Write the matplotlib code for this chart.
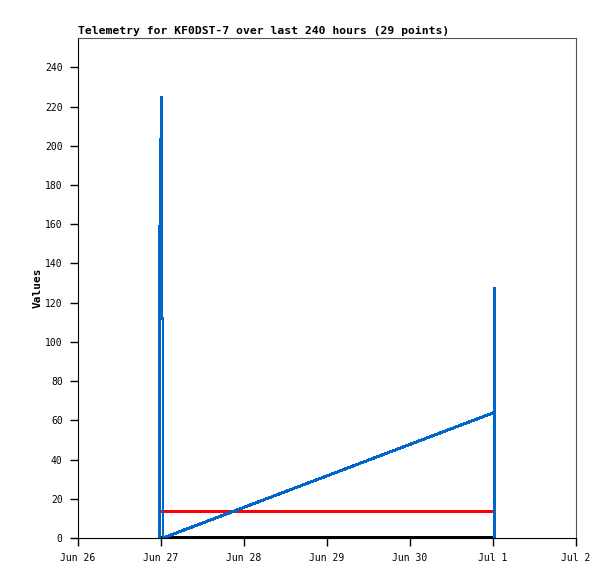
import datetime as dt
import matplotlib
matplotlib.use("Agg")
import matplotlib.pyplot as plt

# hours after Jun 26 00:00
start = dt.datetime(2024, 6, 26)
blue_hours = [23.48, 23.48, 23.77, 24.0, 24.2, 24.2, 24.58, 24.58, 120.3, 120.3, 120.3]
blue_vals = [0, 130, 168, 205, 225, 112, 112, 0, 64, 128, 0]
red_hours = [23.8, 120.6]
red_vals = [14, 14]
black_hours = [23.8, 120.3]
black_vals = [0, 0]
y_ticks = list(range(0, 241, 20))
x_days = [dt.datetime(2024, 6, 26) + dt.timedelta(days=i) for i in range(7)]
x_labels = ["Jun 26", "Jun 27", "Jun 28", "Jun 29", "Jun 30", "Jul 1", "Jul 2"]


def to_time(hours):
    return [start + dt.timedelta(hours=h) for h in hours]


mono = "DejaVu Sans Mono"
fig = plt.figure(figsize=(6.15, 5.79), dpi=100)
ax = fig.add_axes([78 / 615, 1 - 538 / 579, 498 / 615, 500 / 579])

ax.plot(to_time(black_hours), black_vals, color="black", lw=2.2,
        solid_capstyle="butt", antialiased=False)
ax.plot(to_time(red_hours), red_vals, color="#ff0000", lw=1.8,
        solid_capstyle="butt", antialiased=False)
ax.plot(to_time(blue_hours), blue_vals, color="#0066cc", lw=1.4,
        solid_capstyle="butt", solid_joinstyle="bevel", antialiased=False)

ax.set_xlim(x_days[0], x_days[-1])
ax.set_ylim(0, 255)
ax.set_yticks(y_ticks)
ax.set_yticklabels([str(v) for v in y_ticks], family=mono, fontsize=7)
ax.set_xticks(x_days)
ax.set_xticklabels(x_labels, family=mono, fontsize=7)
ax.tick_params(axis="both", direction="out", length=6, width=1, color="black", pad=5)

for side in ["top", "right"]:
    ax.spines[side].set_color("#555555")
for side in ["left", "bottom"]:
    ax.spines[side].set_color("black")

ax.set_ylabel("Values", family=mono, fontsize=8, fontweight="bold", labelpad=2)
ax.set_title("Telemetry for KF0DST-7 over last 240 hours (29 points)",
             family=mono, fontsize=8.2, fontweight="bold", loc="left", pad=3)

fig.savefig("out.png", dpi=100)
